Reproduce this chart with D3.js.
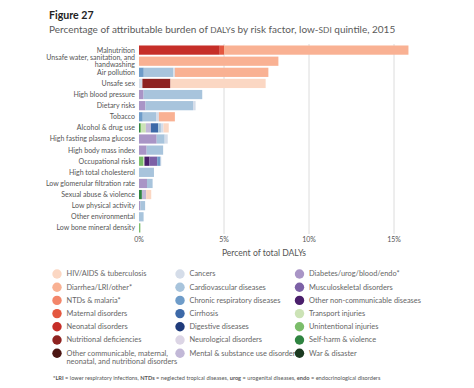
<!DOCTYPE html>
<html>
<head>
<meta charset="utf-8">
<script src="https://cdn.jsdelivr.net/npm/d3@7"></script>
<style>
  body { margin: 0; background: #fff; }
  svg { display: block; font-family: Lato, "Open Sans", sans-serif; }
</style>
</head>
<body>
<script>
// risk factors, top to bottom
var risks = ["Malnutrition", "Unsafe water, sanitation, and|handwashing", "Air pollution", "Unsafe sex",
  "High blood pressure", "Dietary risks", "Tobacco", "Alcohol & drug use", "High fasting plasma glucose",
  "High body mass index", "Occupational risks", "High total cholesterol", "Low glomerular filtration rate",
  "Sexual abuse & violence", "Low physical activity", "Other environmental", "Low bone mineral density"];

// cause groups (legend order) and colours
var causes = ["HIV/AIDS & tuberculosis", "Diarrhea/LRI/other*", "NTDs & malaria*", "Maternal disorders",
  "Neonatal disorders", "Nutritional deficiencies", "Other communicable, maternal,|neonatal, and nutritional disorders",
  "Cancers", "Cardiovascular diseases", "Chronic respiratory diseases", "Cirrhosis", "Digestive diseases",
  "Neurological disorders", "Mental & substance use disorders",
  "Diabetes/urog/blood/endo*", "Musculoskeletal disorders", "Other non-communicable diseases",
  "Transport injuries", "Unintentional injuries", "Self-harm & violence", "War & disaster"];
var colors = ["#fbd7c3", "#f9b193", "#f3866a", "#e4573f", "#c62e28", "#8e2220", "#4b1613",
  "#d5dde9", "#a8c4dc", "#6e9cc9", "#3d69a8", "#1f3b7b",
  "#dcd5e5", "#c2b8d7", "#a995c6", "#7c61a6", "#4a1f6b",
  "#cce3b6", "#7bbd6a", "#2f8441", "#1b3a21"];

// percent of total DALYs, one value per risk factor
var hivTb         = [0, 0, 0, 5.6, 0, 0, 0, 0.31, 0, 0, 0, 0, 0, 0.3, 0, 0, 0];
var diarrheaLri   = [10.85, 8.2, 5.5, 0, 0, 0, 0.94, 0, 0, 0, 0, 0, 0, 0, 0, 0, 0];
var ntdsMalaria   = [0, 0, 0, 0, 0, 0, 0, 0, 0, 0, 0, 0, 0, 0, 0, 0, 0];
var maternal      = [0.25, 0, 0, 0, 0, 0, 0, 0, 0, 0, 0, 0, 0, 0, 0, 0, 0];
var neonatal      = [4.75, 0, 0, 0, 0, 0, 0, 0, 0, 0, 0, 0, 0, 0, 0, 0, 0];
var nutritional   = [0, 0, 0, 1.65, 0, 0, 0, 0, 0, 0, 0, 0, 0, 0, 0, 0, 0];
var otherComm     = [0, 0, 0, 0, 0, 0, 0, 0, 0, 0, 0, 0, 0, 0, 0, 0, 0];
var cancers       = [0, 0, 0.1, 0.2, 0, 0.15, 0.17, 0.15, 0.18, 0, 0.04, 0, 0, 0, 0, 0, 0];
var cardio        = [0, 0, 1.73, 0, 3.45, 2.8, 0.78, 0.16, 0.47, 0.97, 0, 0.88, 0.33, 0, 0.28, 0.27, 0];
var chronicResp   = [0, 0, 0.28, 0, 0, 0, 0.22, 0, 0, 0, 0.2, 0, 0, 0, 0, 0, 0];
var cirrhosis     = [0, 0, 0, 0, 0, 0, 0, 0.43, 0, 0, 0, 0, 0, 0, 0, 0, 0];
var digestive     = [0, 0, 0, 0, 0, 0, 0, 0, 0, 0, 0, 0, 0, 0, 0, 0, 0];
var neuro         = [0, 0, 0, 0, 0, 0, 0, 0, 0, 0, 0, 0, 0, 0, 0, 0, 0];
var mental        = [0, 0, 0, 0, 0, 0, 0, 0.3, 0, 0, 0, 0, 0, 0.25, 0, 0, 0];
var diabetes      = [0, 0, 0, 0, 0.27, 0.38, 0, 0, 1.04, 0.45, 0, 0, 0.47, 0, 0.08, 0, 0];
var msk           = [0, 0, 0, 0, 0, 0, 0, 0, 0, 0, 0.45, 0, 0, 0, 0, 0, 0];
var otherNcd      = [0, 0, 0, 0, 0, 0, 0, 0, 0, 0, 0.3, 0, 0, 0, 0, 0, 0];
var transport     = [0, 0, 0, 0, 0, 0, 0, 0.26, 0, 0, 0.06, 0, 0, 0, 0, 0, 0];
var unintentional = [0, 0, 0, 0, 0, 0, 0, 0.08, 0, 0, 0.26, 0, 0, 0, 0, 0, 0.08];
var selfHarm      = [0, 0, 0, 0, 0, 0, 0, 0.06, 0, 0, 0, 0, 0, 0.17, 0, 0, 0];
var war           = [0, 0, 0, 0, 0, 0, 0, 0, 0, 0, 0, 0, 0, 0, 0, 0, 0];

var xTicks = [0, 5, 10, 15];

var series = [hivTb, diarrheaLri, ntdsMalaria, maternal, neonatal, nutritional, otherComm,
  cancers, cardio, chronicResp, cirrhosis, digestive, neuro, mental,
  diabetes, msk, otherNcd, transport, unintentional, selfHarm, war];

// table for d3.stack
var rows = risks.map(function(r, i) {
  var o = { risk: r };
  causes.forEach(function(c, j) { o[c] = series[j][i]; });
  return o;
});

var width = 474, height = 388;
var svg = d3.select("body").append("svg").attr("width", width).attr("height", height);

var x = d3.scaleLinear().domain([0, 16]).range([139, 411]);
var y = d3.scaleBand().domain(risks).range([44.6, 233.4]).paddingInner(0.17).paddingOuter(0.08);
var color = d3.scaleOrdinal().domain(causes).range(colors);

// titles
svg.append("text").attr("x", 49).attr("y", 19)
  .style("font-size", "10.6px").style("font-weight", "bold").style("fill", "#222")
  .text("Figure 27");
var sub = svg.append("text").attr("x", 49).attr("y", 32.5)
  .style("font-size", "10px").style("fill", "#5a5a5a");
sub.append("tspan").text("Percentage of attributable burden of ");
sub.append("tspan").style("font-size", "8.3px").text("DALY");
sub.append("tspan").text("s by risk factor, low-");
sub.append("tspan").style("font-size", "8.3px").text("SDI");
sub.append("tspan").text(" quintile, 2015");

// grid
svg.append("g").selectAll("line").data(xTicks.slice(1)).enter().append("line")
  .attr("x1", function(d) { return x(d); }).attr("x2", function(d) { return x(d); })
  .attr("y1", 44).attr("y2", 234)
  .attr("stroke", "#dcdcdc").attr("stroke-width", 1);

// stacked bars, injuries first from the left
var stack = d3.stack().keys(causes.slice().reverse());
var layers = stack(rows);

svg.append("g").selectAll("g").data(layers).enter().append("g")
  .attr("fill", function(d) { return color(d.key); })
  .selectAll("rect").data(function(d) { return d.filter(function(s) { return s[1] - s[0] > 0; }); })
  .enter().append("rect")
  .attr("x", function(d) { return x(d[0]); })
  .attr("y", function(d) { return y(d.data.risk); })
  .attr("width", function(d) { return x(d[1]) - x(d[0]); })
  .attr("height", y.bandwidth());

// risk labels
svg.append("g").selectAll("text").data(risks).enter().append("text")
  .attr("text-anchor", "end")
  .style("font-size", "7px").style("fill", "#555")
  .each(function(d) {
    var lines = d.split("|");
    var cy = y(d) + y.bandwidth() / 2;
    var t = d3.select(this);
    lines.forEach(function(l, k) {
      t.append("tspan").attr("x", 135)
        .attr("y", cy + 2.4 + (k - (lines.length - 1) / 2) * 7)
        .text(l);
    });
  });

// x axis labels
svg.append("g").selectAll("text").data(xTicks).enter().append("text")
  .attr("x", function(d) { return x(d); }).attr("y", 242)
  .attr("text-anchor", "middle")
  .style("font-size", "7px").style("fill", "#555")
  .text(function(d) { return d + "%"; });

svg.append("text").attr("x", 264).attr("y", 256)
  .attr("text-anchor", "middle")
  .style("font-size", "8.6px").style("fill", "#555")
  .text("Percent of total DALYs");

// legend
var legCols = [57, 180, 299.5];
var legend = svg.append("g").selectAll("g").data(causes).enter().append("g")
  .attr("transform", function(d, i) {
    var col = i < 7 ? 0 : (i < 14 ? 1 : 2);
    var row = i % 7;
    return "translate(" + legCols[col] + "," + (274 + row * 13.2) + ")";
  });
legend.append("circle").attr("r", 4.7).attr("fill", function(d) { return color(d); });
legend.append("text")
  .style("font-size", "7.4px").style("fill", "#666")
  .each(function(d) {
    var lines = d.split("|");
    var t = d3.select(this);
    lines.forEach(function(l, k) {
      t.append("tspan").attr("x", 9.5).attr("y", 2.3 + k * 8.2).text(l);
    });
  });

// footnote
var note = svg.append("text").attr("x", 53).attr("y", 380)
  .style("font-size", "5.65px").style("fill", "#555");
var parts = [["*LRI", true], [" = lower respiratory infections, ", false], ["NTDs", true],
  [" = neglected tropical diseases, ", false], ["urog", true], [" = urogenital diseases, ", false],
  ["endo", true], [" = endocrinological disorders", false]];
parts.forEach(function(p) {
  note.append("tspan").style("font-weight", p[1] ? "bold" : "normal").text(p[0]);
});
</script>
</body>
</html>
